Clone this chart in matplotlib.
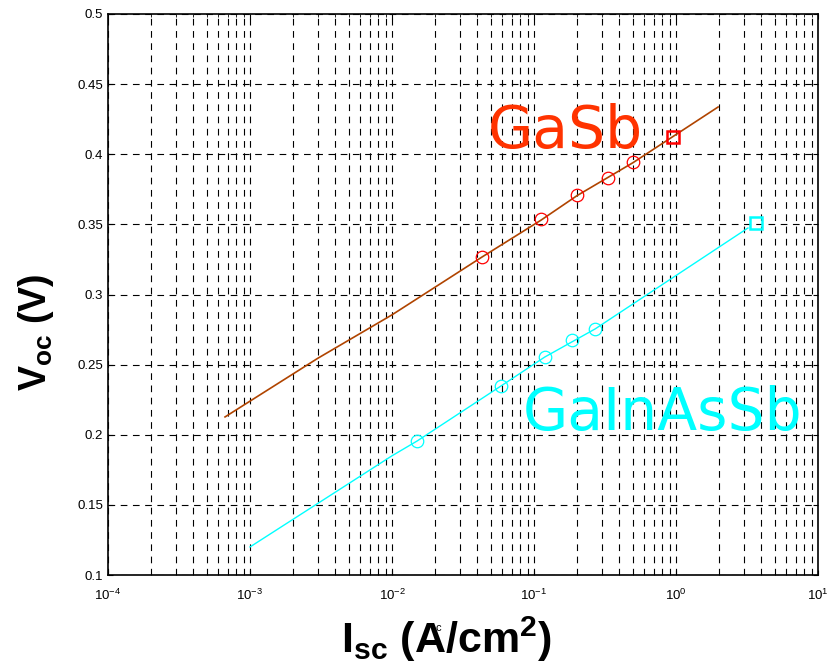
import numpy as np
import matplotlib
matplotlib.use("Agg")
import matplotlib.pyplot as plt
from matplotlib.ticker import LogLocator

plt.rcParams["font.family"] = ["Liberation Sans", "DejaVu Sans"]
plt.rcParams["mathtext.fontset"] = "custom"
plt.rcParams["mathtext.rm"] = "Liberation Sans"
plt.rcParams["mathtext.it"] = "Liberation Sans:italic"
plt.rcParams["mathtext.bf"] = "Liberation Sans:bold"

# GaSb measured points, square point and fit line
gasb_isc = [0.043, 0.112, 0.201, 0.332, 0.498]
gasb_voc = [0.3267, 0.3538, 0.371, 0.383, 0.3945]
gasb_sq_isc = [0.953]
gasb_sq_voc = [0.412]
gasb_fit_isc = [6.67e-4, 0.003, 0.01, 0.043, 0.112, 0.201, 0.498, 1.98]
gasb_fit_voc = [0.2127, 0.2545, 0.2855, 0.3267, 0.3530, 0.3705, 0.3940, 0.4337]

# GaInAsSb measured points, square point and fit line
gias_isc = [0.0150, 0.0586, 0.119, 0.185, 0.269]
gias_voc = [0.1955, 0.2348, 0.2554, 0.2676, 0.2754]
gias_sq_isc = [3.66]
gias_sq_voc = [0.351]
gias_fit_isc = [1e-3, 0.01, 0.015, 0.0586, 0.119, 0.269, 3.21]
gias_fit_voc = [0.120, 0.185, 0.1955, 0.2348, 0.2554, 0.2754, 0.3474]

yticks = [0.1, 0.15, 0.2, 0.25, 0.3, 0.35, 0.4, 0.45, 0.5]
ytick_labels = ["0.1", "0.15", "0.2", "0.25", "0.3", "0.35", "0.4", "0.45", "0.5"]

fig = plt.figure(figsize=(8.31, 6.66), dpi=100)
ax = fig.add_axes([108/831, 1-575/666, 710/831, 561/666])

ax.plot(gasb_fit_isc, gasb_fit_voc, color="#b04400", lw=1.2)
ax.plot(gasb_isc, gasb_voc, "o", mfc="none", mec="red", ms=9, mew=0.9)
ax.plot(gasb_sq_isc, gasb_sq_voc, "s", mfc="none", mec="red", ms=8, mew=1.8)

ax.plot(gias_fit_isc, gias_fit_voc, color="cyan", lw=1.0)
ax.plot(gias_isc, gias_voc, "o", mfc="none", mec="cyan", ms=9, mew=0.9)
ax.plot(gias_sq_isc, gias_sq_voc, "s", mfc="none", mec="cyan", ms=8, mew=1.8)

ax.set_xscale("log")
ax.set_xlim(1e-4, 10)
ax.set_ylim(0.1, 0.5)
ax.set_yticks(yticks)
ax.set_yticklabels(ytick_labels)
ax.xaxis.set_minor_locator(LogLocator(base=10, subs=np.arange(2, 10)))

ax.grid(True, which="major", color="black", linestyle=(0, (6, 5)), lw=0.8)
ax.grid(True, which="minor", axis="x", color="black", linestyle=(0, (6, 5)), lw=0.8)
ax.tick_params(which="both", direction="in", top=True, right=True, labelsize=9.5)
ax.tick_params(axis="x", pad=9)
for s in ax.spines.values():
    s.set_linewidth(1.2)

ax.text(0.0474, 0.4045, "GaSb", color="#ff3300", fontsize=42, family="DejaVu Sans")
ax.text(0.0838, 0.2034, "GaInAsSb", color="cyan", fontsize=42, family="DejaVu Sans")

# axis labels placed in figure pixels
fig.text(36/831, 1-332/666, r"$\mathbf{V_{oc}}$ (V)", fontsize=27, fontweight="bold",
         rotation=90, ha="center", va="center")
fig.text(446/831, 1-653/666, r"$\mathbf{I_{sc}}$ (A/cm$\mathbf{^2}$)", fontsize=31,
         fontweight="bold", ha="center", va="baseline")
fig.text(438/831, 1-628/666, "c", fontsize=8, ha="center", va="center")

plt.savefig("out.png", dpi=100)
